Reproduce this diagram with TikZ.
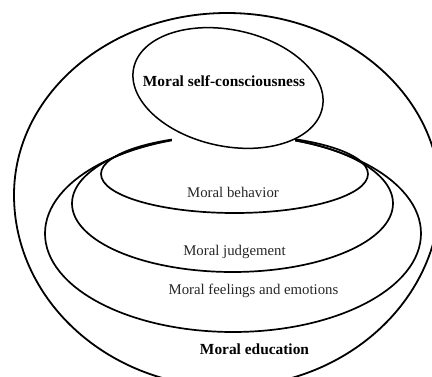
\documentclass[tikz,border=0pt]{standalone}
\usepackage{fontspec}
\setmainfont{Liberation Serif}
\begin{document}
\begin{tikzpicture}[x=1pt, y=1pt,
    ring/.style={draw, line width=1.7pt},
    label/.style={font=\fontsize{14.8}{17}\selectfont, text=black!85},
    title/.style={font=\fontsize{15.4}{18}\selectfont\bfseries}]
        % Fix the page size
        \clip (0,0) rectangle (432,376);

        % Outer shape: upper and lower halves have different heights
        \draw[line width=1.8pt] (14,181)
          arc[start angle=180, end angle=0, x radius=213, y radius=182]
          arc[start angle=0, end angle=-180, x radius=213, y radius=192];

        % Nested layers, all touching at the top
        \draw[ring] (233,142.5) ellipse [x radius=188, y radius=98.5];
        \draw[ring] (232.5,172.5) ellipse [x radius=160.5, y radius=68.5];
        \draw[ring] (234.5,202) ellipse [x radius=133.5, y radius=39];

        % Cut the layers below the top ellipse
        \fill[white] (172,226) rectangle (295,256);
        \draw[ring, fill=white, line width=1.5pt, rotate around={-12:(228,288)}]
          (228,288) ellipse [x radius=96.4, y radius=58.2];

        % Labels
        \node[title] (sc) at (224,295) {Moral self-consciousness};
        \node[label] (behav) at (233,184) {Moral behavior};
        \node[label] (judge) at (234.5,124) {Moral judgement};
        \node[label] (feel) at (253.5,85) {Moral feelings and emotions};
        \node[title] (edu) at (254.5,27) {Moral education};
\end{tikzpicture}
\end{document}
